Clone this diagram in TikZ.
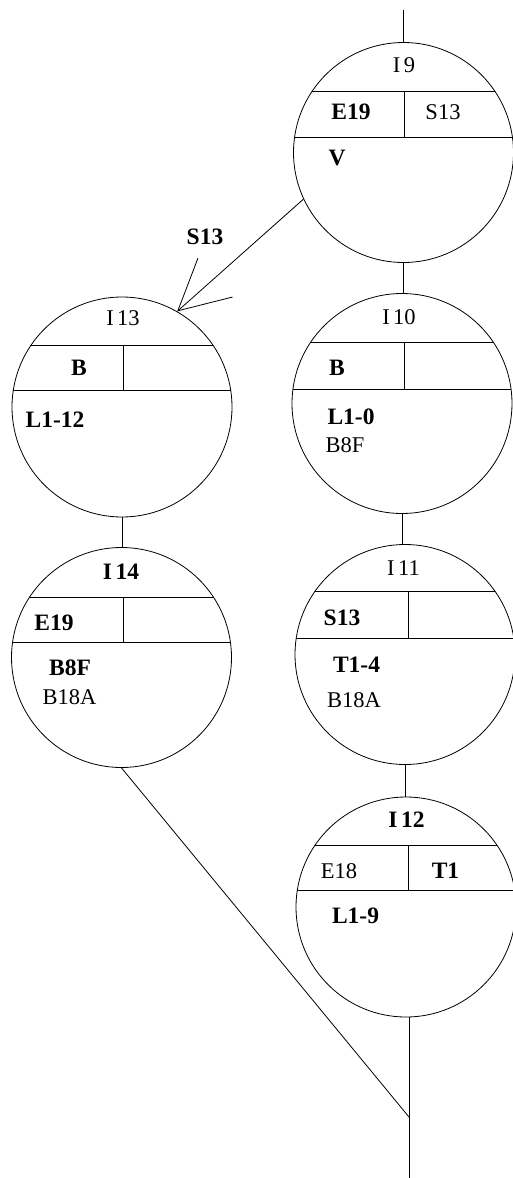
\documentclass[tikz,border=0pt]{standalone}
\usepackage{fontspec}
\setmainfont{Liberation Serif}
\usetikzlibrary{arrows.meta,calc}
\newcommand\stchords[4]{%
  \begin{scope}
    \clip (#1.center) circle[radius=110pt];
    \draw[conn] ($(#1.center)+(-116,#2)$) -- ++(232,0);
    \draw[conn] ($(#1.center)+(-116,#3)$) -- ++(232,0);
    \draw[conn] ($(#1.center)+(#4,#2)$) -- ($(#1.center)+(#4,#3)$);
  \end{scope}}
\begin{document}
\begin{tikzpicture}[x=1pt,y=-1pt,
  conn/.style={line width=0.8pt},
  stc/.style={circle,draw,minimum size=220pt,inner sep=0pt,line width=0.8pt},
  lbl/.style={inner sep=0pt,text height=15pt,text depth=0pt,font=\fontsize{22.5}{24}\selectfont},
  bl/.style={lbl,font=\fontsize{23.5}{25}\selectfont\bfseries}]
\useasboundingbox (0,0) rectangle (512,1178);

% state circles
\node[stc] (c9)  at (403.5,152.5) {};
\node[stc] (c10) at (402,403.5) {};
\node[stc] (c11) at (405,654.5) {};
\node[stc] (c12) at (406,907) {};
\node[stc] (c13) at (122,407) {};
\node[stc] (c14) at (121.5,657.5) {};

\stchords{c9}{-61.5}{-15.5}{0.5}
\stchords{c10}{-61}{-14.5}{2}
\stchords{c11}{-63.5}{-16.5}{3}
\stchords{c12}{-62}{-17}{2}
\stchords{c13}{-62}{-17}{1}
\stchords{c14}{-60.5}{-15.5}{1.5}

% texts
\node[lbl] (t9)  at (404,65) {I\hspace{0.15em}9};
\node[bl]  (t9a) at (351,112) {E19};
\node[lbl] (t9b) at (443,112) {S13};
\node[bl]  (t9c) at (337,158) {V};

\node[lbl] (t13)  at (123,318) {I\hspace{0.15em}13};
\node[bl]  (t13a) at (79,368) {B};
\node[bl]  (t13c) at (55,420) {L1-12};

\node[lbl] (t10)  at (399,317) {I\hspace{0.15em}10};
\node[bl]  (t10a) at (337,368) {B};
\node[bl]  (t10c) at (351,417) {L1-0};
\node[lbl] (t10d) at (345,445) {B8F};

\node[bl]  (t14)  at (121,572) {I\hspace{0.15em}14};
\node[bl]  (t14a) at (54,623) {E19};
\node[bl]  (t14c) at (70,668) {B8F};
\node[lbl] (t14d) at (69.5,697) {B18A};

\node[lbl] (t11)  at (403.5,568) {I\hspace{0.15em}11};
\node[bl]  (t11a) at (342,618) {S13};
\node[bl]  (t11c) at (356.5,665) {T1-4};
\node[lbl] (t11d) at (354,700) {B18A};

\node[bl]  (t12)  at (406.5,820) {I\hspace{0.15em}12};
\node[lbl] (t12a) at (339,871) {E18};
\node[bl]  (t12b) at (445.5,871) {T1};
\node[bl]  (t12c) at (355.5,916) {L1-9};

\node[bl] (s13) at (205,237) {S13};

% connectors
\coordinate (top) at (403.5,10);
\coordinate (bot) at (409,1178);
\coordinate (join) at (409,1117);
\draw[conn] (top) -- (c9.north);
\draw[conn] (c9.south) -- (c9.south |- c10.north);
\draw[conn] (c10.south) -- (c10.south |- c11.north);
\draw[conn] (c11.south) -- (c11.south |- c12.north);
\draw[conn] (c13.south) -- (c13.south |- c14.north);
\draw[conn] (bot |- c12.south) -- (bot);
\draw[conn] (c14.south) -- (join);
\draw[conn,-{Straight Barb[length=50pt,width=52pt]}] (c9.205) -- (c13.60);
\end{tikzpicture}
\end{document}
